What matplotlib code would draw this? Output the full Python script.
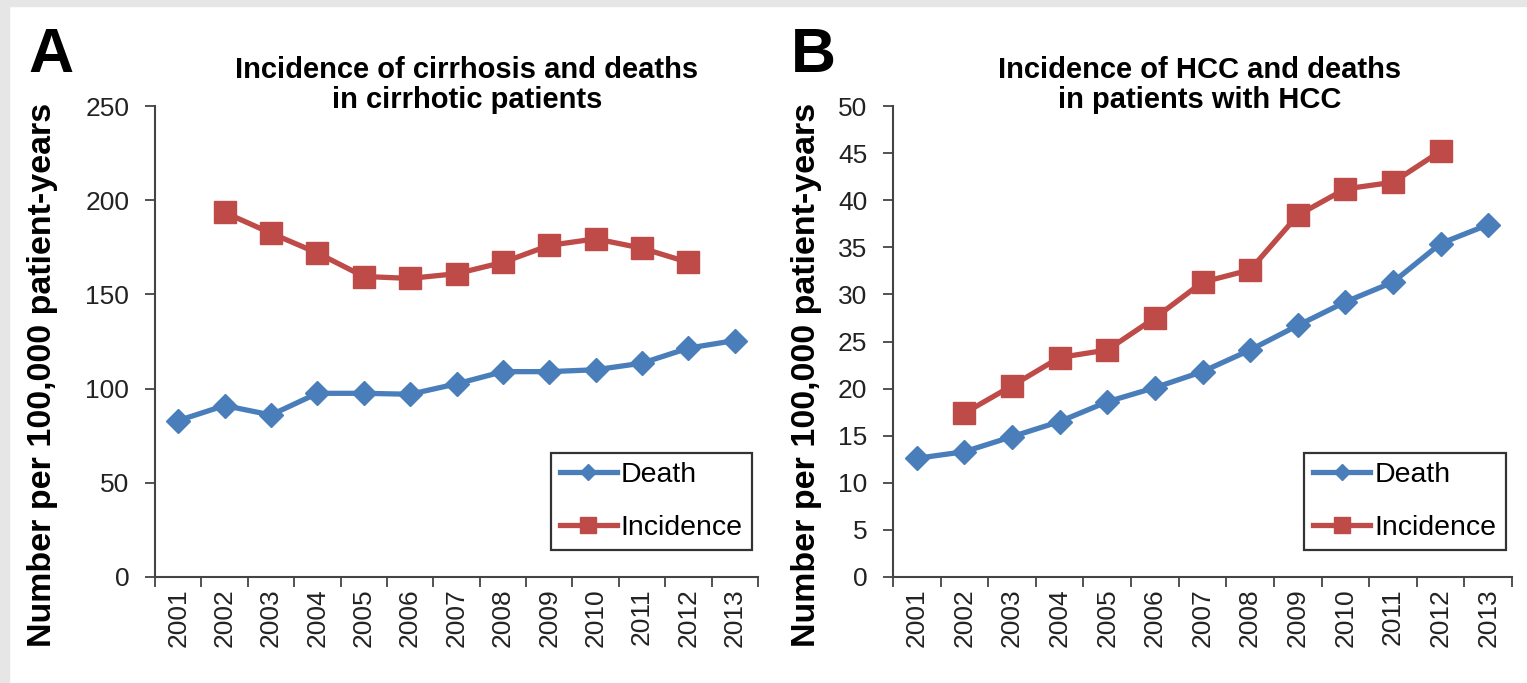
"""Two-panel Excel-style line chart: cirrhosis and HCC incidence / deaths, 2001-2013."""
import numpy as np
import matplotlib
matplotlib.use("Agg")
import matplotlib.pyplot as plt
from matplotlib.patches import Rectangle

years = [str(y) for y in range(2001, 2014)]

# panel A: cirrhosis (per 100,000 patient-years)
cirr_death = [83, 91, 86, 97.5, 97.5, 97, 102.5, 109, 109, 110, 113.5, 121.5, 125.5]
cirr_incid = [None, 193.5, 182.5, 172, 159.5, 158.5, 161, 167, 176, 179.5, 174.5, 167, None]

# panel B: HCC (per 100,000 patient-years)
hcc_death = [12.6, 13.3, 14.9, 16.5, 18.6, 20.1, 21.8, 24.1, 26.7, 29.2, 31.3, 35.4, 37.4]
hcc_incid = [None, 17.4, 20.3, 23.3, 24.1, 27.5, 31.3, 32.6, 38.4, 41.2, 41.9, 45.2, None]

BLUE = "#4A7EBB"
RED = "#BE4B48"
plt.rcParams["font.family"] = ["Liberation Sans", "DejaVu Sans"]

W, H = 1527, 683
fig = plt.figure(figsize=(W / 100, H / 100), dpi=100)

# grey screenshot edge (top and left)
fig.patches.append(Rectangle((0, 1 - 6 / H), 1, 6 / H, transform=fig.transFigure,
                             color="#e6e6e6", zorder=0))
fig.patches.append(Rectangle((0, 0), 9 / W, 1, transform=fig.transFigure,
                             color="#e6e6e6", zorder=0))


def to_arr(v):
    return np.array([np.nan if x is None else x for x in v], dtype=float)


def panel(left, right, death, incid, ymax, ystep, title, title_x, letter, letter_x, ylab_x):
    ax = fig.add_axes([left / W, 106 / H, (right - left) / W, 471 / H])
    x = np.arange(len(years))
    ax.plot(x, to_arr(death), color=BLUE, lw=3.8, marker="D", ms=12, label="Death")
    ax.plot(x, to_arr(incid), color=RED, lw=3.8, marker="s", ms=15.5, label="Incidence")
    ax.set_xlim(-0.5, len(years) - 0.5)
    ax.set_ylim(0, ymax)
    ax.set_yticks(np.arange(0, ymax + 0.1, ystep))
    ax.set_xticks(x)
    ax.set_xticklabels(years, rotation=90)
    ax.set_xticks(np.arange(-0.5, len(years)), minor=True)
    ax.tick_params(axis="x", which="major", length=0, pad=8, labelsize=19, labelcolor="#222")
    ax.tick_params(axis="x", which="minor", length=7, width=1.3, color="#444")
    ax.tick_params(axis="y", length=7, width=1.3, color="#444", pad=11.5,
                   labelsize=19, labelcolor="#222")
    for s in ("top", "right"):
        ax.spines[s].set_visible(False)
    for s in ("left", "bottom"):
        ax.spines[s].set_color("#444")
        ax.spines[s].set_linewidth(1.5)
    leg = ax.legend(loc="lower right", bbox_to_anchor=(0.99, 0.057), fontsize=20.5,
                    frameon=True, fancybox=False, edgecolor="black", handlelength=2.0,
                    handletextpad=0.15, labelspacing=0.95, borderpad=0.32,
                    borderaxespad=0, markerscale=0.7)
    leg.get_frame().set_linewidth(1.6)
    fig.text(title_x / W, 1 - 85 / H, title, ha="center", va="center",
             fontsize=21, fontweight="bold", linespacing=1.05)
    fig.text(letter_x / W, 1 - 55 / H, letter, ha="left", va="center", fontsize=45,
             fontweight="bold")
    fig.text(ylab_x / W, 1 - 375 / H, "Number per 100,000 patient-years",
             rotation=90, ha="center", va="center", fontsize=24.5, fontweight="bold")
    return ax


panel(155, 758, cirr_death, cirr_incid, 250, 50,
      "Incidence of cirrhosis and deaths\nin cirrhotic patients", 467, "A", 28, 43)
panel(893, 1512, hcc_death, hcc_incid, 50, 5,
      "Incidence of HCC and deaths\nin patients with HCC", 1200, "B", 791, 807)

fig.savefig("out.png", dpi=100)
